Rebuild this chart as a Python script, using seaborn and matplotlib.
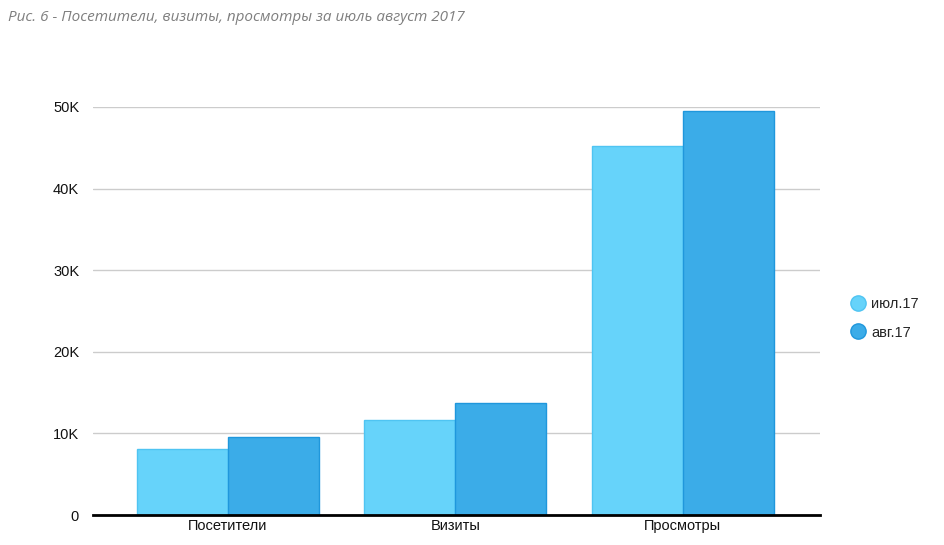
import pandas as pd
import matplotlib.pyplot as plt
import seaborn as sns
from matplotlib.lines import Line2D
from matplotlib.ticker import FuncFormatter

categories = ['Посетители', 'Визиты', 'Просмотры']
months = ['июл.17', 'авг.17']
jul_values = [8100, 11600, 45200]
aug_values = [9550, 13700, 49500]

colors = ['#66d3fa', '#3bace8']
edges = ['#4fc4f2', '#1f97dc']

df = pd.DataFrame({
    'category': categories * 2,
    'month': [months[0]] * 3 + [months[1]] * 3,
    'value': jul_values + aug_values,
})

sns.set_theme(style='white')
plt.rcParams['font.family'] = ['Liberation Sans', 'DejaVu Sans']

fig = plt.figure(figsize=(9.45, 5.45), dpi=100)
ax = fig.add_axes([0.0984, 0.055, 0.7693, 0.7487])

sns.barplot(data=df, x='category', y='value', hue='month', palette=colors,
            width=0.8, saturation=1, ax=ax, legend=False, zorder=3)
for cont, ec in zip(ax.containers, edges):
    for p in cont:
        p.set_edgecolor(ec)
        p.set_linewidth(1)

ax.set_xlim(-0.593, 2.603)
ax.set_ylim(0, 50000)
ax.set_yticks(range(0, 50001, 10000))
ax.yaxis.set_major_formatter(FuncFormatter(lambda v, _: '0' if v == 0 else f'{int(v / 1000)}K'))
ax.grid(axis='y', color='#cccccc', lw=1, zorder=0)
ax.set_axisbelow(True)
ax.set_xlabel('')
ax.set_ylabel('')
for s in ['top', 'right', 'left']:
    ax.spines[s].set_visible(False)
ax.spines['bottom'].set_color('black')
ax.spines['bottom'].set_linewidth(2)
ax.spines['bottom'].set_zorder(5)
ax.tick_params(axis='both', length=0, labelsize=10.5, colors='#111111')
ax.tick_params(axis='y', pad=10)
ax.tick_params(axis='x', pad=3)

handles = [Line2D([0], [0], marker='o', linestyle='', markersize=11,
                  markerfacecolor=c, markeredgecolor=e) for c, e in zip(colors, edges)]
fig.legend(handles, months, loc='center left', bbox_to_anchor=(0.885, 0.416),
           frameon=False, fontsize=10.5, handletextpad=0.3, labelspacing=1.0,
           handlelength=1.2)

fig.text(0.008, 0.968, 'Рис. 6 - Посетители, визиты, просмотры за июль август 2017',
         fontsize=11, style='italic', color='#7f7f7f', family='Open Sans',
         va='center', ha='left')

fig.savefig('out.png', dpi=100)
